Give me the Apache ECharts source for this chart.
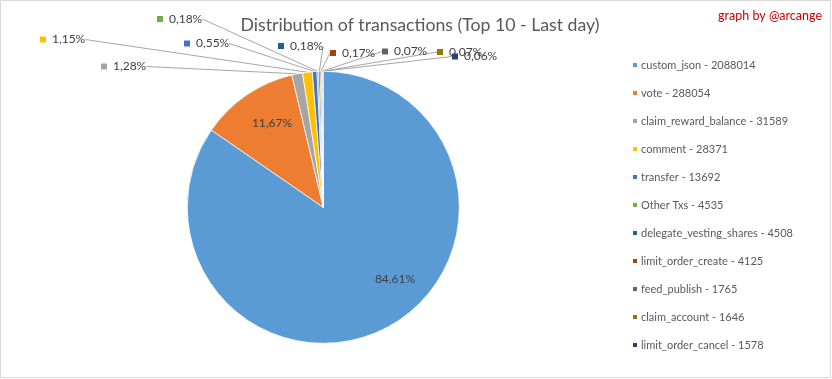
<!DOCTYPE html>
<html>
<head>
<meta charset="utf-8">
<script src="https://cdn.jsdelivr.net/npm/echarts@6/dist/echarts.min.js"></script>
<style>
html,body{margin:0;padding:0;background:#fff;}
#chart{width:832px;height:379px;}
</style>
</head>
<body>
<div id="chart"></div>
<script>
const categories = ['custom_json','vote','claim_reward_balance','comment','transfer','Other Txs','delegate_vesting_shares','limit_order_create','feed_publish','claim_account','limit_order_cancel'];
const values = [2088014,288054,31589,28371,13692,4535,4508,4125,1765,1646,1578];
const colors = ['#5B9BD5','#ED7D31','#A5A5A5','#FFC000','#4472C4','#70AD47','#255E91','#9E480E','#636363','#997300','#264478'];
const titleText = 'Distribution of transactions (Top 10 - Last day)';
const creditText = 'graph by @arcange';

// label anchor placements (chart pixel positions of the data labels)
const labelSpots = [
  [395, 279, 'center'], [272, 123.5, 'center'],
  [101, 66.5, 'left'], [40, 39.5, 'left'], [184, 43.5, 'left'], [157, 19, 'left'],
  [278, 46, 'left'], [330, 53, 'left'], [382, 51.5, 'left'], [437, 52, 'left'], [452, 56.5, 'left']
];

const FONT = 'Lato';
const rich = { t: { fontFamily: FONT, fontSize: 12, color: '#404040', padding: [0, 0, 0, 6] }, c: { fontFamily: FONT, fontSize: 12, color: '#404040' } };
colors.forEach((c, i) => { rich['m' + i] = { width: 6, height: 6, backgroundColor: c }; });

const total = values.reduce((a, b) => a + b, 0);
function pct(v) { return (v / total * 100).toFixed(2).replace('.', ',') + '%'; }

const data = categories.map((name, i) => {
  const inside = i < 2;
  return {
    name: name,
    value: values[i],
    itemStyle: { color: colors[i] },
    label: inside ? { position: 'inside' } : { position: 'outside' },
    labelLine: { show: !inside }
  };
});

const chart = echarts.init(document.getElementById('chart'), null, { renderer: 'canvas' });
chart.setOption({
  animation: false,
  backgroundColor: '#ffffff',
  title: [{
    text: titleText,
    left: 415, top: 11, textAlign: 'center',
    textStyle: { fontFamily: FONT, fontSize: 17.7, fontWeight: 'normal', color: '#595959' }
  }, {
    text: creditText,
    right: 10, top: 9, padding: 0,
    textStyle: { fontFamily: FONT, fontSize: 12.5, fontWeight: 'normal', color: '#CC0000' }
  }],
  legend: {
    orient: 'vertical',
    left: 631, top: 58, padding: 0,
    itemWidth: 6, itemHeight: 6, itemGap: 14,
    icon: 'rect',
    textStyle: { fontFamily: FONT, fontSize: 11, color: '#595959', lineHeight: 14, padding: [0, 0, 0, -2] },
    formatter: function (name) { const i = categories.indexOf(name); return name + ' - ' + values[i]; },
    data: categories
  },
  graphic: [{
    type: 'rect', silent: true,
    shape: { x: 0.5, y: 0.5, width: 830, height: 377 },
    style: { fill: 'none', stroke: '#D9D9D9', lineWidth: 1 }
  }],
  series: [{
    type: 'pie',
    center: [323.3, 207.3],
    radius: 136,
    startAngle: 90,
    clockwise: true,
    avoidLabelOverlap: false,
    itemStyle: { borderColor: '#ffffff', borderWidth: 0.75 },
    label: {
      show: true,
      formatter: function (p) {
        if (p.dataIndex < 2) return '{c|' + pct(p.value) + '}';
        return '{m' + p.dataIndex + '|}{t|' + pct(p.value) + '}';
      },
      rich: rich
    },
    labelLine: { show: true, length: 10, length2: 0, smooth: false, lineStyle: { color: '#A6A6A6', width: 1 } },
    labelLayout: function (params) {
      const s = labelSpots[params.dataIndex];
      return { x: s[0], y: s[1], align: s[2], verticalAlign: 'middle', hideOverlap: false, moveOverlap: null };
    },
    emphasis: { disabled: true },
    data: data
  }]
});
</script>
</body>
</html>
